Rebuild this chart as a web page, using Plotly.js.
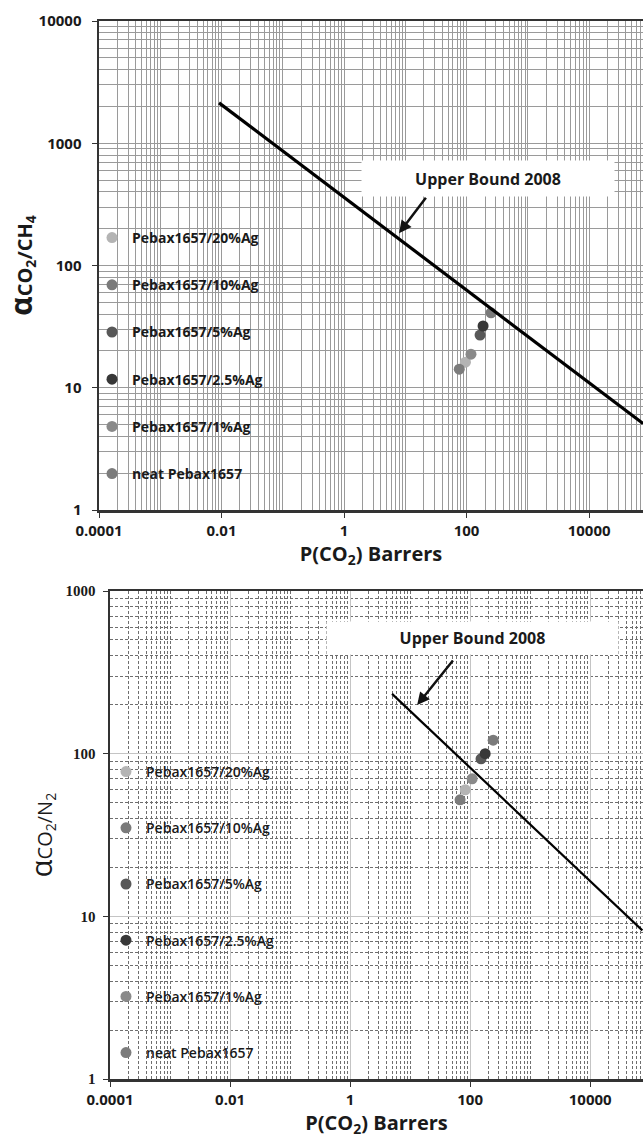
<!DOCTYPE html>
<html>
<head>
<meta charset="utf-8">
<script src="https://cdn.plot.ly/plotly-3.0.1.min.js"></script>
<style>html,body{margin:0;padding:0;background:#fff;}#chart{width:643px;height:1139px;}</style>
</head>
<body>
<div id="chart"></div>
<script>
// ---- data ----
const seriesNames = ['neat Pebax1657', 'Pebax1657/1%Ag', 'Pebax1657/2.5%Ag', 'Pebax1657/5%Ag', 'Pebax1657/10%Ag', 'Pebax1657/20%Ag'];
const seriesColors = ['#7c7c7c', '#8a8a8a', '#383838', '#585858', '#7a7a7a', '#b4b4b4'];
// CO2/CH4 chart
const permCH4 = [76, 118, 186, 166, 251, 96];
const selCH4 = [14.2, 18.8, 32, 27, 41, 16.2];
// CO2/N2 chart
const permN2 = [68, 108, 178, 152, 242, 83];
const selN2 = [52, 70, 100, 93, 121, 60];
// Upper bound 2008 lines (end points)
const boundCH4X = [0.0091, 76000];
const boundCH4Y = [2140, 5.1];
const boundN2X = [5.0, 74000];
const boundN2Y = [233, 8.2];
// ticks
const xTickVals = [0.0001, 0.01, 1, 100, 10000];
const xTickText = ['0.0001', '0.01', '1', '100', '10000'];
const yTickValsCH4 = [1, 10, 100, 1000, 10000];
const yTickTextCH4 = ['1', '10', '100', '1000', '10000'];
const yTickValsN2 = [1, 10, 100, 1000];
const yTickTextN2 = ['1', '10', '100', '1000'];
// annotation anchors
const boundLabel = 'Upper Bound 2008';
const labelCH4 = {x: 224, y: 519, headX: 7.9, headY: 184};
const labelN2 = {x: 108, y: 514, headX: 13.1, headY: 199};

const W = 643, H = 1139;
const sans = '"Open Sans", "Noto Sans", sans-serif';
const dark = '#1a1a1a';

// legend lists 20%Ag first, neat last
const legendOrder = [5, 4, 3, 2, 1, 0];

const traces = [];
legendOrder.forEach((i) => {
  traces.push({
    type: 'scatter', mode: 'markers', name: seriesNames[i],
    x: [permCH4[i]], y: [selCH4[i]], xaxis: 'x', yaxis: 'y',
    marker: {size: 11, color: seriesColors[i]},
    legend: 'legend', legendgroup: 'a' + i
  });
});
traces.push({type: 'scatter', mode: 'lines', x: boundCH4X, y: boundCH4Y, xaxis: 'x', yaxis: 'y',
  line: {color: '#000', width: 3.2}, showlegend: false, hoverinfo: 'skip'});
legendOrder.forEach((i) => {
  traces.push({
    type: 'scatter', mode: 'markers', name: seriesNames[i],
    x: [permN2[i]], y: [selN2[i]], xaxis: 'x2', yaxis: 'y2',
    marker: {size: 11, color: seriesColors[i]},
    legend: 'legend2', legendgroup: 'b' + i
  });
});
traces.push({type: 'scatter', mode: 'lines', x: boundN2X, y: boundN2Y, xaxis: 'x2', yaxis: 'y2',
  line: {color: '#000', width: 2.2}, showlegend: false, hoverinfo: 'skip'});

function xAxis(domain, anchor, solidGrid) {
  return {
    type: 'log', domain: domain, anchor: anchor, range: [-4, 4.88],
    tickmode: 'array', tickvals: xTickVals, ticktext: xTickText,
    ticks: 'outside', ticklen: 5, tickcolor: '#333',
    tickfont: {family: sans, size: 15, color: dark, weight: 'bold'},
    showline: true, linecolor: '#333', linewidth: 2.5, mirror: true,
    showgrid: true, gridcolor: solidGrid ? '#9a9a9a' : '#c4c4c4', gridwidth: 1,
    minor: {dtick: 'D1', showgrid: true, gridcolor: solidGrid ? '#9a9a9a' : '#6e6e6e', gridwidth: 1,
            griddash: solidGrid ? 'solid' : '3px,2px', ticks: ''},
    zeroline: false, automargin: false,
    title: {text: 'P(CO<sub>2</sub>) Barrers', font: {family: sans, size: 20, color: dark, weight: 'bold'}, standoff: 6}
  };
}

const layout = {
  width: W, height: H,
  margin: {l: 0, r: 0, t: 0, b: 0},
  paper_bgcolor: '#fff', plot_bgcolor: '#fff',
  showlegend: true,
  xaxis: xAxis([99 / W, 1], 'y', true),
  yaxis: {
    type: 'log', domain: [1 - 510 / H, 1 - 21 / H], anchor: 'x', range: [0, 4],
    tickmode: 'array', tickvals: yTickValsCH4, ticktext: yTickTextCH4,
    ticks: 'outside', ticklen: 5, tickcolor: '#333', ticklabelstandoff: 7,
    tickfont: {family: sans, size: 15, color: dark, weight: 'bold'},
    showline: true, linecolor: '#333', linewidth: 2.5, mirror: false,
    showgrid: true, gridcolor: '#9a9a9a', gridwidth: 1,
    minor: {dtick: 'D1', showgrid: true, gridcolor: '#9a9a9a', gridwidth: 1, ticks: ''},
    zeroline: false, automargin: false,
    title: {text: '<span style="font-size:30px">α</span>CO<sub>2</sub>/CH<sub>4</sub>',
            font: {family: sans, size: 20, color: dark, weight: 'bold'}, standoff: 2}
  },
  xaxis2: xAxis([110 / W, 1], 'y2', false),
  yaxis2: {
    type: 'log', domain: [1 - 1079 / H, 1 - 591 / H], anchor: 'x2', range: [0, 3],
    tickmode: 'array', tickvals: yTickValsN2, ticktext: yTickTextN2,
    ticks: 'outside', ticklen: 5, tickcolor: '#333', ticklabelstandoff: 4,
    tickfont: {family: '"Liberation Serif", serif', size: 15, color: dark, weight: 'bold'},
    showline: true, linecolor: '#333', linewidth: 2.5, mirror: false,
    showgrid: true, gridcolor: '#c4c4c4', gridwidth: 1,
    minor: {dtick: 'D1', showgrid: true, gridcolor: '#6e6e6e', gridwidth: 1, griddash: '3px,2px', ticks: ''},
    zeroline: false, automargin: false,
    title: {text: '<span style="font-size:29px">α</span>CO<sub>2</sub>/N<sub>2</sub>',
            font: {family: sans, size: 20, color: dark}, standoff: 8}
  },
  legend: {
    x: 92 / W, y: 1 - 222 / H, xanchor: 'left', yanchor: 'top',
    bgcolor: 'rgba(0,0,0,0)', borderwidth: 0,
    traceorder: 'grouped', tracegroupgap: 26,
    font: {family: sans, size: 14, color: dark, weight: 'bold'}
  },
  legend2: {
    x: 106 / W, y: 1 - 756 / H, xanchor: 'left', yanchor: 'top',
    bgcolor: 'rgba(0,0,0,0)', borderwidth: 0,
    traceorder: 'grouped', tracegroupgap: 35,
    font: {family: sans, size: 14, color: dark, weight: 600}
  },
  annotations: [
    {xref: 'x', yref: 'y', x: Math.log10(labelCH4.x), y: Math.log10(labelCH4.y), text: '<b>' + boundLabel + '</b>',
     showarrow: false, bgcolor: '#fff', width: 250, height: 33, font: {family: sans, size: 16, color: dark}},
    {xref: 'x', yref: 'y', x: Math.log10(labelCH4.headX), y: Math.log10(labelCH4.headY), text: '',
     showarrow: true, arrowhead: 2, arrowsize: 1, arrowwidth: 2.5, arrowcolor: '#111', ax: 28, ay: -37},
    {xref: 'x2', yref: 'y2', x: Math.log10(labelN2.x), y: Math.log10(labelN2.y), text: '<b>' + boundLabel + '</b>',
     showarrow: false, bgcolor: '#fff', width: 289, height: 30, font: {family: sans, size: 16, color: dark}},
    {xref: 'x2', yref: 'y2', x: Math.log10(labelN2.headX), y: Math.log10(labelN2.headY), text: '',
     showarrow: true, arrowhead: 2, arrowsize: 1, arrowwidth: 2.5, arrowcolor: '#111', ax: 37, ay: -46}
  ]
};

Plotly.newPlot('chart', traces, layout, {displayModeBar: false, staticPlot: true});
</script>
</body>
</html>
